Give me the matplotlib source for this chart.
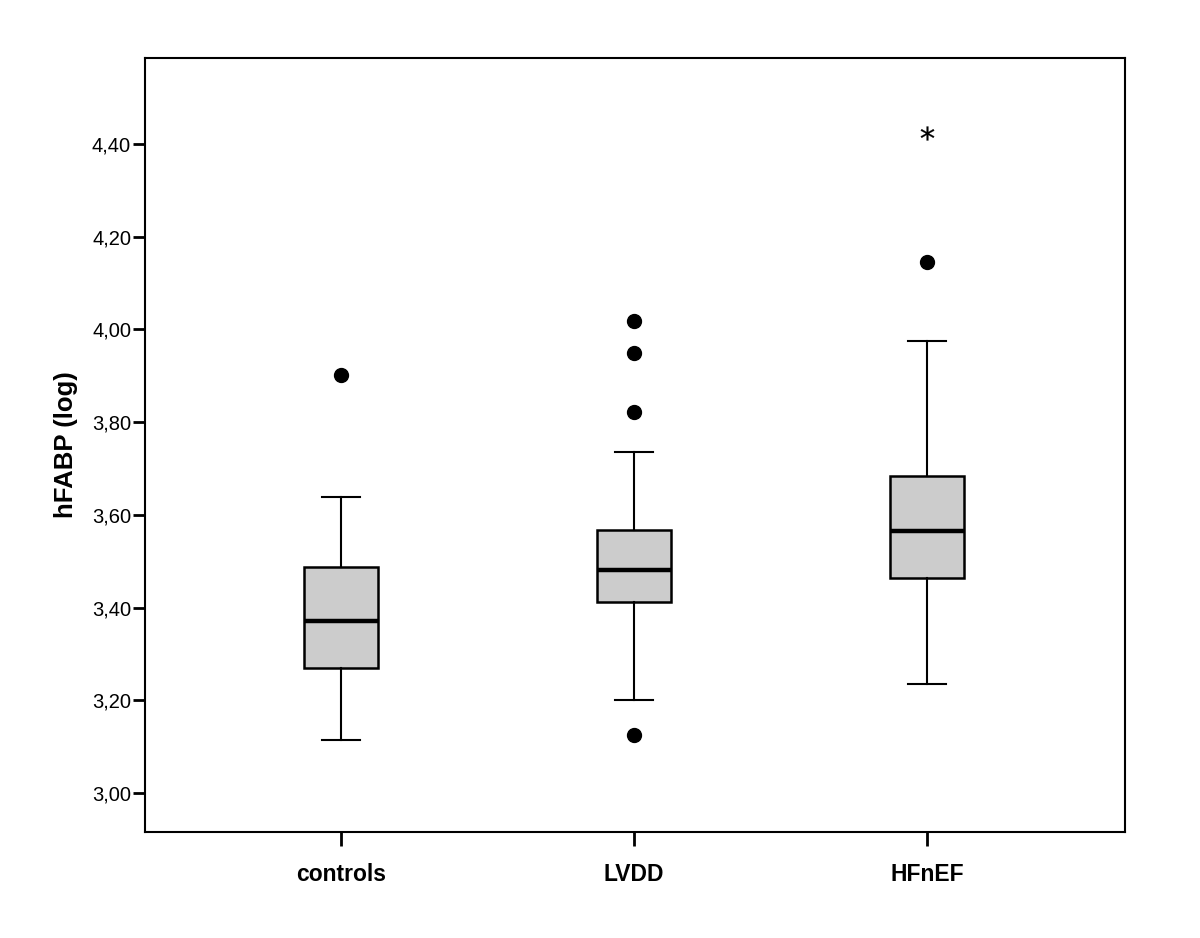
import matplotlib.pyplot as plt

plt.rcParams['font.family'] = ['Liberation Sans', 'DejaVu Sans']

groups = ['controls', 'LVDD', 'HFnEF']
whislo = [3.114, 3.201, 3.235]
q1 = [3.270, 3.412, 3.464]
med = [3.371, 3.481, 3.565]
q3 = [3.487, 3.567, 3.684]
whishi = [3.638, 3.736, 3.975]
outliers = [[3.902], [4.018, 3.949, 3.822, 3.125], [4.145]]
extremes = [[], [], [4.424]]
yticks = [3.00, 3.20, 3.40, 3.60, 3.80, 4.00, 4.20, 4.40]

fig = plt.figure(figsize=(12, 9.38), dpi=100)
ax = fig.add_axes([0.1208, 0.113, 0.8167, 0.825])

stats = []
for i, g in enumerate(groups):
    stats.append({'label': g, 'whislo': whislo[i], 'q1': q1[i], 'med': med[i],
                  'q3': q3[i], 'whishi': whishi[i], 'fliers': outliers[i]})

pos = [1, 2, 3]
ax.bxp(stats, positions=pos, widths=0.25, capwidths=0.13, patch_artist=True,
       boxprops=dict(facecolor='#cccccc', edgecolor='black', linewidth=1.8),
       medianprops=dict(color='black', linewidth=3.2),
       whiskerprops=dict(color='black', linewidth=1.5),
       capprops=dict(color='black', linewidth=1.5),
       flierprops=dict(marker='o', markerfacecolor='black', markeredgecolor='black',
                       markersize=10))

# extreme values drawn as asterisks
for i, ex in enumerate(extremes):
    if ex:
        ax.plot([pos[i]] * len(ex), ex, linestyle='none', marker='$*$',
                color='black', markersize=10, markeredgewidth=0.2)

ax.set_xlim(0.331, 3.676)
ax.set_ylim(2.916, 4.585)
ax.set_yticks(yticks)
ax.set_yticklabels([('%.2f' % v).replace('.', ',') for v in yticks])
ax.set_xticks(pos)
ax.set_xticklabels(groups, fontsize=16.5, fontweight='bold')
ax.tick_params(axis='y', direction='out', length=9, width=2, labelsize=14.5, pad=1)
ax.tick_params(axis='x', direction='out', length=10, width=2, pad=12)
for s in ax.spines.values():
    s.set_linewidth(1.5)
ax.set_ylabel('hFABP (log)', fontsize=18.5, fontweight='bold', labelpad=10)

fig.savefig('out.png', dpi=100)
